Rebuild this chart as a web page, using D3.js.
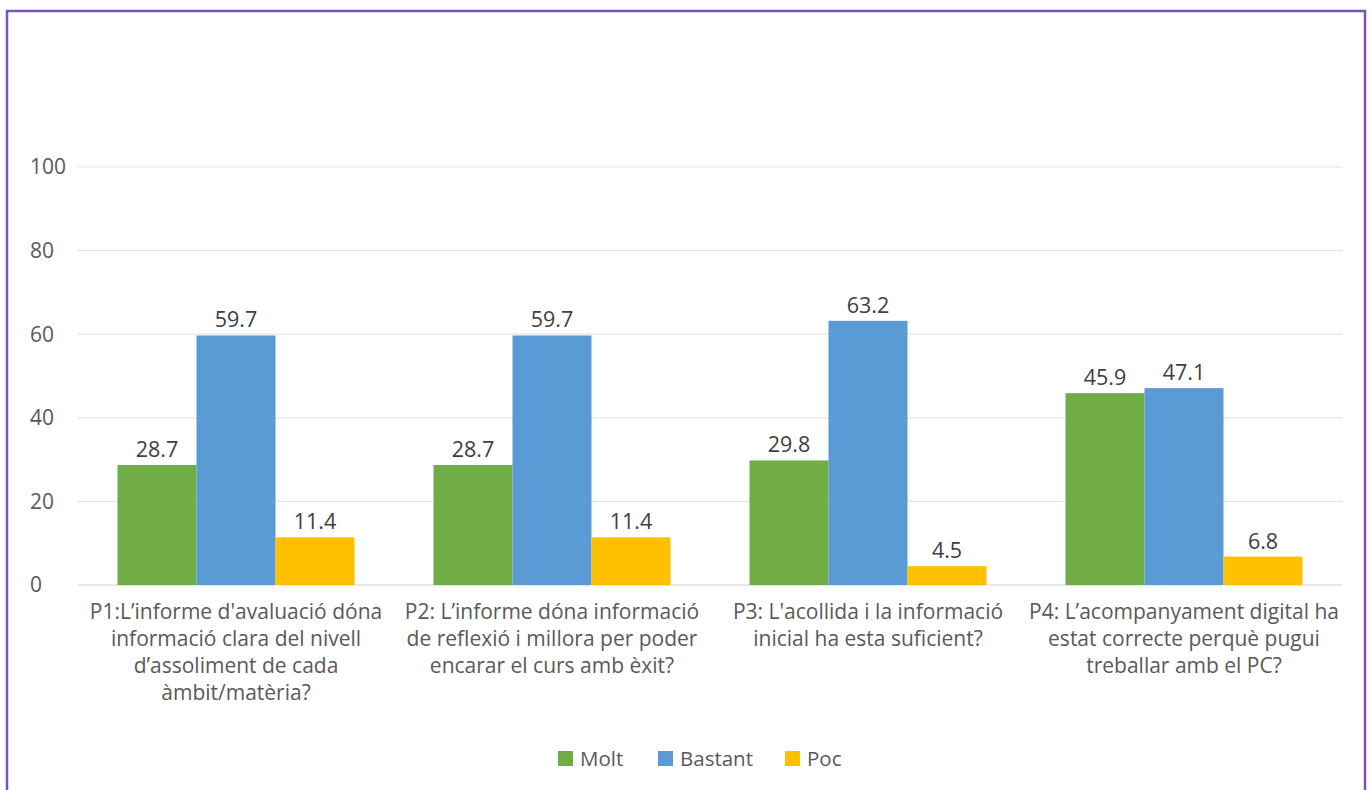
<!DOCTYPE html>
<html>
<head>
<meta charset="utf-8">
<script src="https://cdn.jsdelivr.net/npm/d3@7"></script>
<style>
  body { margin: 0; background: #fff; }
  svg text { font-family: "Open Sans", "Noto Sans", sans-serif; }
</style>
</head>
<body>
<script>
// data
var categories = ["P1", "P2", "P3", "P4"];
var categoryLabels = [
  ["P1:L\u2019informe d'avaluació dóna", "informació clara del nivell", "d\u2019assoliment de cada", "àmbit/matèria?"],
  ["P2: L\u2019informe dóna informació", "de reflexió i millora per poder", "encarar el curs amb èxit?"],
  ["P3: L'acollida i la informació", "inicial ha esta suficient?"],
  ["P4: L\u2019acompanyament digital ha", "estat correcte perquè pugui", "treballar amb el PC?"]
];
var seriesNames = ["Molt", "Bastant", "Poc"];
var molt = [28.7, 28.7, 29.8, 45.9];
var bastant = [59.7, 59.7, 63.2, 47.1];
var poc = [11.4, 11.4, 4.5, 6.8];
var yTicks = [0, 20, 40, 60, 80, 100];
var colors = ["#70AD47", "#5B9BD5", "#FFC000"];

var width = 1372, height = 790;
var svg = d3.select("body").append("svg")
    .attr("width", width)
    .attr("height", height);

// frame
svg.append("rect")
    .attr("x", 7).attr("y", 11)
    .attr("width", 1358).attr("height", 790)
    .attr("fill", "#fff")
    .attr("stroke", "#7b52b9")
    .attr("stroke-width", 2.5);

var plotLeft = 78, plotRight = 1342, plotTop = 167, plotBottom = 585;

var x = d3.scaleBand().domain(categories).range([plotLeft, plotRight]);
var x1 = d3.scaleBand().domain(seriesNames).range([0, x.bandwidth()]).paddingInner(0).paddingOuter(0.5);
var y = d3.scaleLinear().domain([0, 100]).range([plotBottom, plotTop]);

// gridlines
svg.append("g").selectAll("line")
    .data(yTicks)
    .enter().append("line")
    .attr("x1", plotLeft).attr("x2", plotRight)
    .attr("y1", function(d) { return y(d); })
    .attr("y2", function(d) { return y(d); })
    .attr("stroke", function(d) { return d == 0 ? "#d0d0d0" : "#e4e4e4"; })
    .attr("stroke-width", 1.2);

// y labels
svg.append("g").selectAll("text")
    .data(yTicks)
    .enter().append("text")
    .attr("x", 30)
    .attr("y", function(d) { return y(d); })
    .attr("dy", "0.35em")
    .attr("font-size", 21)
    .attr("fill", "#595959")
    .text(function(d) { return d; });

var table = categories.map(function(c, i) {
  return { cat: c, values: [molt[i], bastant[i], poc[i]] };
});

var groups = svg.append("g").selectAll("g")
    .data(table)
    .enter().append("g")
    .attr("transform", function(d) { return "translate(" + x(d.cat) + ",0)"; });

groups.selectAll("rect")
    .data(function(d) { return d.values.map(function(v, j) { return { name: seriesNames[j], v: v, j: j }; }); })
    .enter().append("rect")
    .attr("x", function(d) { return x1(d.name); })
    .attr("width", x1.bandwidth())
    .attr("y", function(d) { return y(d.v); })
    .attr("height", function(d) { return y(0) - y(d.v); })
    .attr("fill", function(d) { return colors[d.j]; });

groups.selectAll("text.val")
    .data(function(d) { return d.values.map(function(v, j) { return { name: seriesNames[j], v: v, j: j }; }); })
    .enter().append("text")
    .attr("class", "val")
    .attr("x", function(d) { return x1(d.name) + x1.bandwidth() / 2; })
    .attr("y", function(d) { return y(d.v) - 8; })
    .attr("text-anchor", "middle")
    .attr("font-size", 21.5)
    .attr("fill", "#404040")
    .text(function(d) { return d.v.toFixed(1); });

// category labels
svg.append("g").selectAll("text")
    .data(categories)
    .enter().append("text")
    .attr("text-anchor", "middle")
    .attr("font-size", 21)
    .attr("fill", "#595959")
    .each(function(d, i) {
      var t = d3.select(this);
      categoryLabels[i].forEach(function(line, k) {
        t.append("tspan")
          .attr("x", x(d) + x.bandwidth() / 2)
          .attr("y", 619 + k * 27)
          .text(line);
      });
    });

// legend
var legendX = [558, 658, 785];
var legend = svg.append("g").selectAll("g")
    .data(seriesNames)
    .enter().append("g")
    .attr("transform", function(d, i) { return "translate(" + legendX[i] + ",751)"; });
legend.append("rect")
    .attr("width", 15).attr("height", 15)
    .attr("fill", function(d, i) { return colors[i]; });
legend.append("text")
    .attr("x", 22).attr("y", 8)
    .attr("dy", "0.35em")
    .attr("font-size", 20.5)
    .attr("fill", "#595959")
    .text(function(d) { return d; });
</script>
</body>
</html>
